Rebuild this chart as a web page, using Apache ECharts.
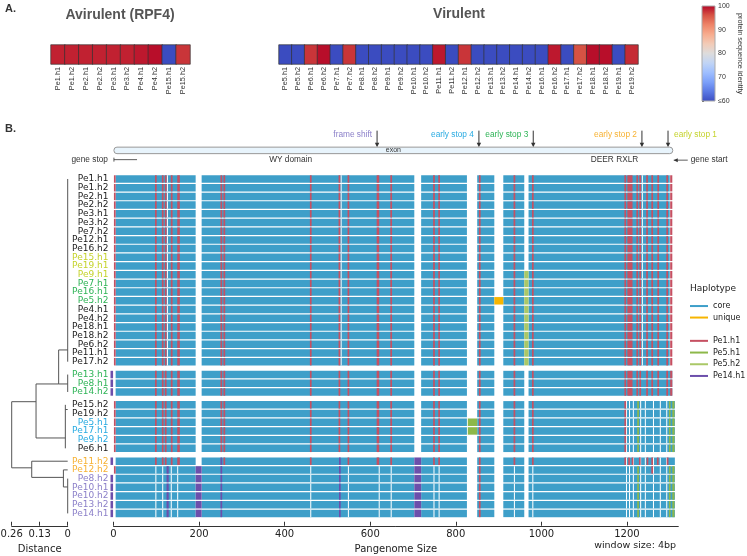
<!DOCTYPE html>
<html>
<head>
<meta charset="utf-8">
<script src="https://cdn.jsdelivr.net/npm/echarts@6/dist/echarts.min.js"></script>
<style>
html,body{margin:0;padding:0;background:#fff;}
#chart{width:747px;height:556px;}
</style>
</head>
<body>
<div id="chart"></div>
<script>
// ---- panel A : protein sequence identity ----
var aviNames = ['Pe1.h1','Pe1.h2','Pe2.h1','Pe2.h2','Pe3.h1','Pe3.h2','Pe4.h1','Pe4.h2','Pe15.h1','Pe15.h2'];
var aviIdentity = [98.5,98.5,98.5,98.5,98.5,98.5,99,99.5,60,97.5];
var virNames = ['Pe5.h1','Pe5.h2','Pe6.h1','Pe6.h2','Pe7.h1','Pe7.h2','Pe8.h1','Pe8.h2','Pe9.h1','Pe9.h2',
  'Pe10.h1','Pe10.h2','Pe11.h1','Pe11.h2','Pe12.h1','Pe12.h2','Pe13.h1','Pe13.h2','Pe14.h1','Pe14.h2',
  'Pe16.h1','Pe16.h2','Pe17.h1','Pe17.h2','Pe18.h1','Pe18.h2','Pe19.h1','Pe19.h2'];
var virIdentity = [60,60,97.5,99.5,60,97.5,60,60,60,60,60,60,99,60,97.5,60,60,60,60,60,60,99,60,96,99.5,99.5,60,98];
var coolwarm = ['#3b4cc0','#5977e3','#7b9ff9','#9ebeff','#c0d4f5','#dddcdc','#f2cbb7','#f7ac8e','#ee8468','#d65244','#b40426'];

// ---- panel B : pangenome haplotypes ----
var rowNames = ['Pe1.h1','Pe1.h2','Pe2.h1','Pe2.h2','Pe3.h1','Pe3.h2','Pe7.h2','Pe12.h1','Pe16.h2','Pe15.h1','Pe19.h1',
  'Pe9.h1','Pe7.h1','Pe16.h1','Pe5.h2','Pe4.h1','Pe4.h2','Pe18.h1','Pe18.h2','Pe6.h2','Pe11.h1','Pe17.h2',
  'Pe13.h1','Pe8.h1','Pe14.h2',
  'Pe15.h2','Pe19.h2','Pe5.h1','Pe17.h1','Pe9.h2','Pe6.h1',
  'Pe11.h2','Pe12.h2','Pe8.h2','Pe10.h1','Pe10.h2','Pe13.h2','Pe14.h1'];
var rowGroup = [0,0,0,0,0,0,0,0,0,0,0,0,0,0,0,0,0,0,0,0,0,0, 1,1,1, 2,2,2,2,2,2, 3,3,3,3,3,3,3];
// 0 none, 1 early stop 1, 2 early stop 3, 3 early stop 4, 4 early stop 2, 5 frame shift
var rowMutation = [0,0,0,0,0,0,0,0,0,1,1,1,2,2,2,0,0,0,0,0,0,0, 2,2,2, 0,0,3,3,3,0, 4,4,5,5,5,5,5];
var mutationColors = ['#222222','#c5d32c','#2fb457','#29abe2','#f7b233','#8c80c9'];

// core windows [start, end, firstRow, lastRow]
var coreSegs = [[5,192,0,37],[206,703,0,37],[719,826,0,37],[850,890,0,37],[911,960,0,37],
  [970,1300,0,21],[970,1306,22,24],[970,1312,25,37]];
// breaks inside the core [pos, firstRow, lastRow]
var coreBreaks = [[126,0,21],[532,0,21],[1236,0,21],
  [99,32,37],[115,32,37],[135,32,37],[150,32,37],[461,32,37],[549,32,37],[621,32,37],[649,32,37],
  [749,32,37],[761,32,37],[937,32,37],[980,32,37],
  [1199,25,37],[1206,25,37],[1215,25,37],[1232,25,37],[1243,25,37],[1262,25,37],[1278,25,37],[1293,25,37]];
// haplotype windows [start, end, firstRow, lastRow]
var pe1h1Marks = [[1,5,0,21],[1,5,25,30],[1,5,32,32],
  [97,101,0,31],[113,117,0,31],[120,124,0,31],[134,138,0,31],[149,155,0,31],
  [250,254,0,30],[257,261,0,31],[459,463,0,31],[526,530,0,30],[547,551,0,31],[615,621,0,31],[647,651,0,31],
  [747,751,0,31],[759,763,0,31],[854,858,0,37],[935,939,0,31],[978,982,0,31],
  [1194,1198,0,24],[1201,1213,0,24],[1222,1226,0,24],[1229,1233,0,24],[1245,1249,0,24],[1257,1261,0,24],
  [1271,1275,0,24],[1292,1296,0,24],[1301,1306,0,24],
  [1194,1198,25,31],[1203,1207,31,31],[1211,1215,31,31],[1228,1232,31,31],[1246,1250,31,31],
  [1257,1261,31,32],[1270,1274,31,31],[1293,1297,31,31]];
var pe5h1Marks = [[828,850,27,28],[1224,1228,25,30],[1224,1228,32,37],[1298,1302,25,30],[1306,1311,25,30],
  [1298,1302,32,37],[1306,1311,32,37]];
var pe5h2Marks = [[960,970,11,21]];
var pe14h1Marks = [[-7,-1,22,24],[-7,-1,31,31],[-7,-1,33,37],[124,129,32,37],[192,206,32,37],
  [250,254,31,37],[527,531,31,37],[703,719,31,37]];
var uniqueMarks = [[890,911,14,14]];

var arrowLabels = ['frame shift','early stop 4','early stop 3','early stop 2','early stop 1'];
var arrowPos = [616,854,981,1235,1296];
var exonSpan = [1,1307];
var geneStopSpan = [1,55];
var regionLabels = ['exon','WY domain','DEER RXLR'];
var regionPos = [654,414,1171];

// dendrogram links [dist1, row1, dist2, row2] (rows in plotted row units)
var dendroLinks = [
  [0,0,0,21],[0,19.65,0.042,19.65],
  [0,22.48,0,24.48],[0,23.56,0.042,23.56],
  [0.042,19.65,0.042,23.56],[0.042,23.56,0.147,23.56],
  [0,26.5,0.011,26.5],[0.011,25.96,0.011,30.96],[0.011,29.77,0.147,29.77],
  [0.147,23.56,0.147,29.77],[0.147,25.6,0.26,25.6],
  [0.26,25.6,0.26,33.2],[0.26,33.2,0.167,33.2],
  [0.167,32.44,0.167,34.3],[0.167,32.44,0,32.44],[0.167,34.3,0.02,34.3],
  [0.02,33.44,0.02,35.4],[0.02,33.44,0,33.44],[0.02,35.4,0,35.4],[0,34.44,0,38.44]
];

var haploColors = {core:'#3e9fc9', unique:'#f7b500', 'Pe1.h1':'#c65062', 'Pe5.h1':'#8db84a', 'Pe5.h2':'#aac867', 'Pe14.h1':'#6c4fab'};

function rowY(i) { return i + rowGroup[i] * 0.48; }

function expand(marks) {
  var out = [];
  marks.forEach(function (m) {
    for (var r = m[2]; r <= m[3]; r++) out.push([m[0], m[1], rowY(r)]);
  });
  return out;
}

function rectItem(params, api) {
  var y = api.value(2);
  var p0 = api.coord([api.value(0), y]);
  var p1 = api.coord([api.value(1), y]);
  var h = api.size([0, 0.86])[1];
  return {type:'rect', shape:{x:p0[0], y:p0[1]-h/2, width:Math.max(p1[0]-p0[0], 0.9), height:h},
    style:{fill:api.visual('color')}};
}

function haploSeries(name, marks) {
  return {type:'custom', name:name, xAxisIndex:3, yAxisIndex:3, renderItem:rectItem,
    itemStyle:{color:haploColors[name]}, data:expand(marks), silent:true};
}

var breakData = coreBreaks.map(function (b) { return [b[0]-1.2, b[0]+1.2, b[1], b[2]]; });

var chart = echarts.init(document.getElementById('chart'));
var F = 'DejaVu Sans';
var L = 'Liberation Sans';

chart.setOption({
  animation:false,
  backgroundColor:'#fff',
  visualMap:{show:false, type:'continuous', min:60, max:100, seriesIndex:[0,1], inRange:{color:coolwarm}},
  grid:[
    {left:51, top:45, width:139, height:19, outerBoundsMode:'none'},
    {left:279, top:45, width:359, height:19, outerBoundsMode:'none'},
    {left:702, top:6, width:13, height:95, outerBoundsMode:'none'},
    {left:113.5, top:174.65, width:564.8, height:343.1, outerBoundsMode:'none'},
    {left:11.7, top:174.65, width:56, height:343.1, outerBoundsMode:'none'}
  ],
  xAxis:[
    {type:'category', gridIndex:0, data:aviNames, axisLine:{show:false}, axisTick:{show:false},
      axisLabel:{rotate:90, fontSize:7.3, fontFamily:L, color:'#333', margin:3, interval:0}},
    {type:'category', gridIndex:1, data:virNames, axisLine:{show:false}, axisTick:{show:false},
      axisLabel:{rotate:90, fontSize:7.3, fontFamily:L, color:'#333', margin:3, interval:0}},
    {type:'value', gridIndex:2, min:0, max:1, show:false},
    {type:'value', gridIndex:3, min:0, max:1320, interval:200, offset:8, splitLine:{show:false},
      axisLine:{onZero:false, lineStyle:{color:'#333', width:1}}, axisTick:{inside:true, length:4, lineStyle:{color:'#333'}},
      axisLabel:{fontSize:10, fontFamily:F, color:'#222', margin:4, showMaxLabel:false, formatter:function (v) { return String(v); }},
      name:'Pangenome Size', nameLocation:'middle', nameGap:15, nameTextStyle:{fontSize:10, fontFamily:F, color:'#222'}},
    {type:'value', gridIndex:4, min:0, max:0.26, interval:0.13, inverse:true, offset:8, splitLine:{show:false},
      axisLine:{onZero:false, lineStyle:{color:'#333', width:1}}, axisTick:{inside:true, length:4, lineStyle:{color:'#333'}},
      axisLabel:{fontSize:10, fontFamily:F, color:'#222', margin:4, formatter:function (v) { return v === 0 ? '0' : v.toFixed(2); }},
      name:'Distance', nameLocation:'middle', nameGap:15, nameTextStyle:{fontSize:10, fontFamily:F, color:'#222'}}
  ],
  yAxis:[
    {type:'category', gridIndex:0, data:[''], show:false},
    {type:'category', gridIndex:1, data:[''], show:false},
    {type:'value', gridIndex:2, min:60, max:100, interval:10, position:'right', splitLine:{show:false},
      axisLine:{show:false}, axisTick:{show:true, length:2, lineStyle:{color:'#555'}},
      axisLabel:{fontSize:7, fontFamily:L, color:'#333', margin:3, formatter:function (v) { return v === 60 ? '\u226460' : v; }},
      name:'protein sequence identity', nameLocation:'middle', nameRotate:-90, nameGap:22,
      nameTextStyle:{fontSize:7.3, fontFamily:L, color:'#333'}},
    {type:'value', gridIndex:3, min:-0.5, max:38.94, inverse:true, show:false},
    {type:'value', gridIndex:4, min:-0.5, max:38.94, inverse:true, show:false}
  ],
  legend:[
    {data:['core','unique'], orient:'vertical', left:690, top:300.3, padding:0, itemWidth:18, itemHeight:2, itemGap:0,
      icon:'rect', selectedMode:false, textStyle:{fontSize:8, fontFamily:F, color:'#222', lineHeight:11.5, padding:[0,0,0,0]}},
    {data:['Pe1.h1','Pe5.h1','Pe5.h2','Pe14.h1'], orient:'vertical', left:690, top:335, padding:0, itemWidth:18, itemHeight:2, itemGap:0,
      icon:'rect', selectedMode:false, textStyle:{fontSize:8, fontFamily:F, color:'#222', lineHeight:11.7, padding:[0,0,0,0]}}
  ],
  graphic:[
    {type:'text', x:5, y:3, style:{text:'A.', font:'bold 11px "Liberation Sans"', fill:'#333'}},
    {type:'text', x:5, y:123, style:{text:'B.', font:'bold 11px "Liberation Sans"', fill:'#333'}},
    {type:'text', x:120, y:15, style:{text:'Avirulent (RPF4)', font:'bold 14px "Liberation Sans"', fill:'#555', align:'center', verticalAlign:'middle'}},
    {type:'text', x:459, y:14, style:{text:'Virulent', font:'bold 14px "Liberation Sans"', fill:'#555', align:'center', verticalAlign:'middle'}},
    {type:'text', x:690, y:289, style:{text:'Haplotype', font:'9px "DejaVu Sans"', fill:'#222', verticalAlign:'middle'}},
    {type:'text', x:676, y:546, style:{text:'window size: 4bp', font:'9.5px "DejaVu Sans"', fill:'#222', align:'right', verticalAlign:'middle'}}
  ],
  series:[
    {type:'heatmap', xAxisIndex:0, yAxisIndex:0, data:aviIdentity.map(function (v, i) { return [i, 0, v]; }),
      itemStyle:{borderColor:'#333', borderWidth:0.7}},
    {type:'heatmap', xAxisIndex:1, yAxisIndex:1, data:virIdentity.map(function (v, i) { return [i, 0, v]; }),
      itemStyle:{borderColor:'#333', borderWidth:0.7}},
    // colour bar
    {type:'custom', xAxisIndex:2, yAxisIndex:2, data:[[0,60,1,100]], silent:true,
      renderItem:function (params, api) {
        var a = api.coord([0, 100]), b = api.coord([1, 60]);
        return {type:'rect', shape:{x:a[0], y:a[1], width:b[0]-a[0], height:b[1]-a[1]},
          style:{stroke:'#aaa', lineWidth:1, fill:new echarts.graphic.LinearGradient(0, 0, 0, 1,
            coolwarm.slice().reverse().map(function (c, i) { return {offset:i/(coolwarm.length-1), color:c}; }))}};
      }},
    haploSeries('core', coreSegs),
    {type:'custom', name:'breaks', xAxisIndex:3, yAxisIndex:3, renderItem:rectItem, itemStyle:{color:'#ffffff'},
      data:expand(breakData), silent:true},
    haploSeries('Pe1.h1', pe1h1Marks),
    haploSeries('Pe5.h1', pe5h1Marks),
    haploSeries('Pe5.h2', pe5h2Marks),
    haploSeries('Pe14.h1', pe14h1Marks),
    haploSeries('unique', uniqueMarks),
    // row labels
    {type:'custom', xAxisIndex:3, yAxisIndex:3, silent:true, data:rowNames.map(function (n, i) { return [0, rowY(i)]; }),
      renderItem:function (params, api) {
        var p = api.coord([0, api.value(1)]);
        var i = params.dataIndex;
        return {type:'text', x:p[0]-5, y:p[1], style:{text:rowNames[i], fill:mutationColors[rowMutation[i]],
          fontSize:9, fontFamily:F, align:'right', verticalAlign:'middle'}};
      }},
    // mutation arrows
    {type:'custom', xAxisIndex:3, yAxisIndex:3, silent:true, data:arrowPos.map(function (p) { return [p, 0]; }),
      renderItem:function (params, api) {
        var i = params.dataIndex;
        var x = api.coord([api.value(0), 0])[0];
        var top = api.coord([0, -0.5])[1];
        var right = i === arrowPos.length - 1;
        return {type:'group', children:[
          {type:'line', shape:{x1:x, y1:top-44, x2:x, y2:top-31}, style:{stroke:'#333', lineWidth:1}},
          {type:'polygon', shape:{points:[[x-2.2, top-32],[x+2.2, top-32],[x, top-27.5]]}, style:{fill:'#333'}},
          {type:'text', x:right ? x+6 : x-5, y:top-39.5, style:{text:arrowLabels[i], fill:mutationColors[[5,3,2,4,1][i]],
            fontSize:8.3, fontFamily:L, align:right ? 'left' : 'right', verticalAlign:'middle'}}
        ]};
      }},
    // gene model
    {type:'custom', xAxisIndex:3, yAxisIndex:3, silent:true, data:[[exonSpan[0], exonSpan[1]]],
      renderItem:function (params, api) {
        var top = api.coord([0, -0.5])[1];
        var x0 = api.coord([exonSpan[0], 0])[0], x1 = api.coord([exonSpan[1], 0])[0];
        var g0 = api.coord([geneStopSpan[0], 0])[0], g1 = api.coord([geneStopSpan[1], 0])[0];
        var ch = [
          {type:'rect', shape:{x:x0, y:top-27.5, width:x1-x0, height:6.5, r:3}, style:{fill:'#e8f4fc', stroke:'#999', lineWidth:1}},
          {type:'line', shape:{x1:g0, y1:top-15, x2:g1, y2:top-15}, style:{stroke:'#333', lineWidth:0.8}},
          {type:'line', shape:{x1:g0, y1:top-17, x2:g0, y2:top-13}, style:{stroke:'#333', lineWidth:0.8}},
          {type:'text', x:g0-6, y:top-15, style:{text:'gene stop', fill:'#333', fontSize:8.3, fontFamily:L, align:'right', verticalAlign:'middle'}},
          {type:'line', shape:{x1:x1+1, y1:top-14.5, x2:x1+15, y2:top-14.5}, style:{stroke:'#333', lineWidth:0.8}},
          {type:'polygon', shape:{points:[[x1+1, top-14.5],[x1+5, top-16.5],[x1+5, top-12.5]]}, style:{fill:'#333'}},
          {type:'text', x:x1+18, y:top-14.5, style:{text:'gene start', fill:'#333', fontSize:8.3, fontFamily:L, align:'left', verticalAlign:'middle'}}
        ];
        regionLabels.forEach(function (t, i) {
          var x = api.coord([regionPos[i], 0])[0];
          ch.push({type:'text', x:x, y:i === 0 ? top-24.3 : top-14.5, style:{text:t, fill:'#333',
            fontSize:i === 0 ? 7 : 8.3, fontFamily:L, align:'center', verticalAlign:'middle'}});
        });
        return {type:'group', children:ch};
      }},
    // dendrogram
    {type:'custom', xAxisIndex:4, yAxisIndex:4, silent:true, data:dendroLinks,
      renderItem:function (params, api) {
        var a = api.coord([api.value(0), api.value(1)]);
        var b = api.coord([api.value(2), api.value(3)]);
        return {type:'line', shape:{x1:a[0], y1:a[1], x2:b[0], y2:b[1]}, style:{stroke:'#555', lineWidth:1}};
      }}
  ]
});
</script>
</body>
</html>
